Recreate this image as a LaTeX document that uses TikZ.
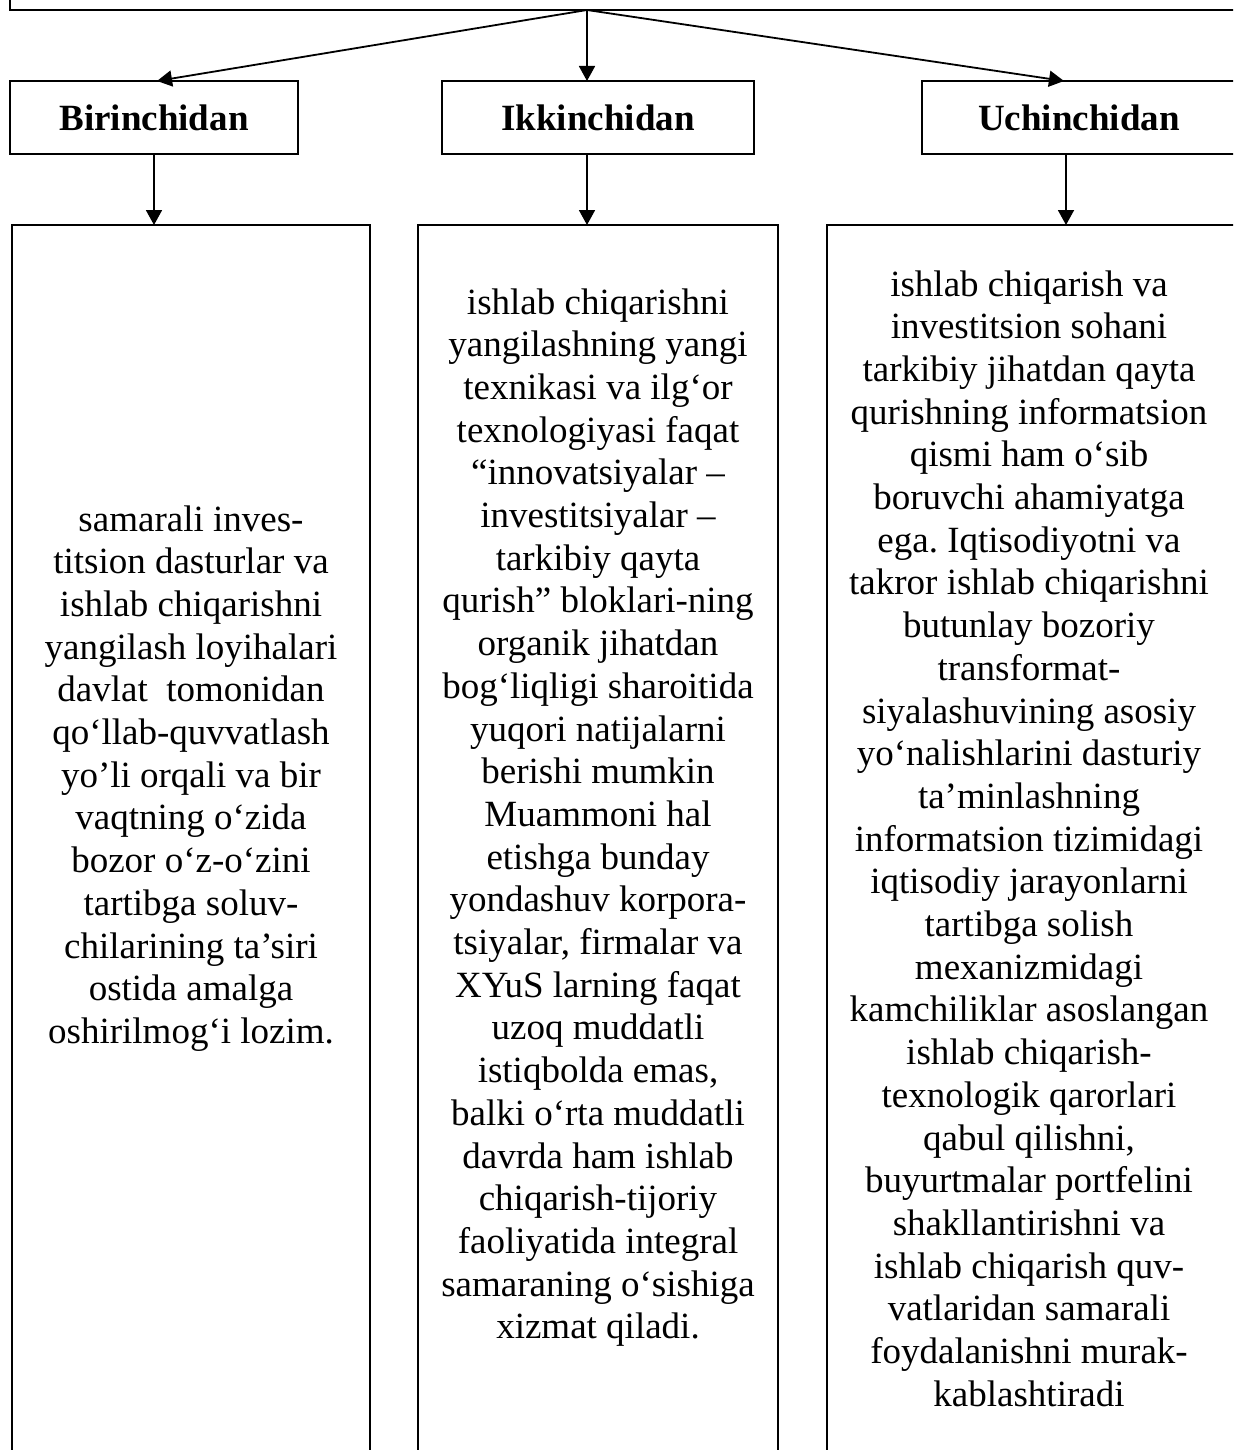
\documentclass[tikz,border=0pt]{standalone}
\usepackage{fontspec}
\setmainfont{Liberation Serif}
\usetikzlibrary{arrows.meta}
\frenchspacing
\begin{document}
\begin{tikzpicture}[x=0.5pt,y=-0.5pt,
  box/.style={draw, line width=0.9pt, inner sep=0pt, outer sep=0pt},
  head/.style={box, minimum height=36.5pt, font=\fontsize{18.5}{21.35}\selectfont\bfseries},
  bodybox/.style={box, minimum height=637.5pt},
  bodytext/.style={align=center, inner sep=0pt, anchor=north, font=\fontsize{18.5}{21.35}\selectfont},
  arr/.style={-{Triangle[length=7.5pt,width=8pt]}, line width=0.9pt}]
\useasboundingbox (0,0) rectangle (1233,1450);
\clip (0,0) rectangle (1233,1450);
% top box (cut by the page edge)
\node[box, anchor=south west, minimum width=640pt, minimum height=60pt] (top) at (10,10) {};
\coordinate (src) at (587,10);
% header boxes
\node[head, minimum width=144pt] (h1) at (154,117.5) {Birinchidan};
\node[head, minimum width=156pt] (h2) at (598,117.5) {Ikkinchidan};
\node[head, minimum width=157pt] (h3) at (1079,117.5) {Uchinchidan};
% body boxes
\node[bodybox, minimum width=179pt] (b1) at (191,862.5) {};
\node[bodybox, minimum width=180pt] (b2) at (598,862.5) {};
\node[bodybox, minimum width=206.5pt] (b3) at (1033.5,862.5) {};
% texts
\node[bodytext] (t1) at (191,505) {samarali inves-\\titsion dasturlar va\\ishlab chiqarishni\\yangilash loyihalari\\davlat\ \ tomonidan\\qo‘llab-quvvatlash\\yo’li orqali va bir\\vaqtning o‘zida\\bozor o‘z-o‘zini\\tartibga soluv-\\chilarining ta’siri\\ostida amalga\\oshirilmog‘i lozim.};
\node[bodytext] (t2) at (598,288) {ishlab chiqarishni\\yangilashning yangi\\texnikasi va ilg‘or\\texnologiyasi faqat\\“innovatsiyalar –\\investitsiyalar –\\tarkibiy qayta\\qurish” bloklari-ning\\organik jihatdan\\bog‘liqligi sharoitida\\yuqori natijalarni\\berishi mumkin\\Muammoni hal\\etishga bunday\\yondashuv korpora-\\tsiyalar, firmalar va\\XYuS larning faqat\\uzoq muddatli\\istiqbolda emas,\\balki o‘rta muddatli\\davrda ham ishlab\\chiqarish-tijoriy\\faoliyatida integral\\samaraning o‘sishiga\\xizmat qiladi.};
\node[bodytext] (t3) at (1029,270) {ishlab chiqarish va\\investitsion sohani\\tarkibiy jihatdan qayta\\qurishning informatsion\\qismi ham o‘sib\\boruvchi ahamiyatga\\ega. Iqtisodiyotni va\\takror ishlab chiqarishni\\butunlay bozoriy\\transformat-\\siyalashuvining asosiy\\yo‘nalishlarini dasturiy\\ta’minlashning\\informatsion tizimidagi\\iqtisodiy jarayonlarni\\tartibga solish\\mexanizmidagi\\kamchiliklar asoslangan\\ishlab chiqarish-\\texnologik qarorlari\\qabul qilishni,\\buyurtmalar portfelini\\shakllantirishni va\\ishlab chiqarish quv-\\vatlaridan samarali\\foydalanishni murak-\\kablashtiradi};
% connectors
\draw[arr] (src) -- ([xshift=1.5pt]h1.north);
\draw[arr] (src) -- (src |- h2.north);
\draw[arr] (src) -- ([xshift=-7.5pt]h3.north);
\draw[arr] (h1.south) -- (h1.south |- b1.north);
\draw[arr] (src |- h2.south) -- (src |- b2.north);
\draw[arr] ([xshift=-6.5pt]h3.south) coordinate (h3s) -- (h3s |- b3.north);
\end{tikzpicture}
\end{document}
